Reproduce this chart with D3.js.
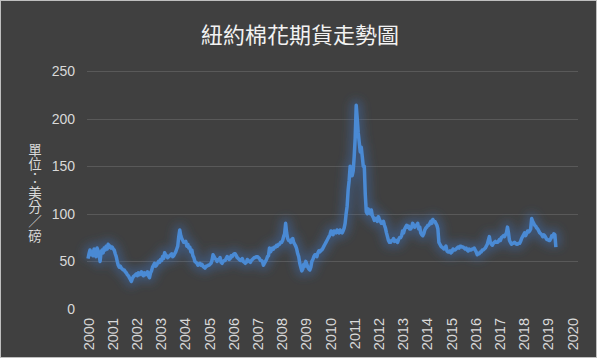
<!DOCTYPE html>
<html><head><meta charset="utf-8">
<script src="https://cdn.jsdelivr.net/npm/d3@7"></script>
<style>
html,body{margin:0;padding:0;background:#ffffff;}
svg{display:block;}
</style></head>
<body>
<svg id="chart" width="600" height="361"></svg>
<script>
// ---- data ----
const titleText = "紐約棉花期貨走勢圖";
const yAxisTitle = "單位：美分／磅";
const startYear = 2000; // first value = start of Jan 2000, two readings per month
const yearTicks = [2000,2001,2002,2003,2004,2005,2006,2007,2008,2009,2010,2011,2012,2013,2014,2015,2016,2017,2018,2019,2020];
const valueTicks = [0,50,100,150,200,250];
const prices2000 = [53,58,62,57,60,56,63,58,55,64,61,57,50,60,62,59,64,62,66,63,68,65,66,64];
const prices2001 = [65,63,62,58,55,50,46,44,45,43,42,41,41,39,38,36,35,33,31,29,32,34,35,36];
const prices2002 = [37,35,38,36,37,39,36,35,38,36,37,39,35,33,38,40,44,46,48,45,46,48,50,49];
const prices2003 = [52,51,55,53,59,57,56,54,55,56,57,58,55,56,58,60,63,66,76,83,77,74,72,70];
const prices2004 = [70,71,66,68,64,65,60,62,56,54,50,49,48,46,47,48,46,47,45,44,43,45,45,46];
const prices2005 = [46,47,48,51,57,55,53,52,50,52,52,54,49,48,50,51,51,53,55,54,52,53,56,55];
const prices2006 = [57,58,58,56,54,53,52,51,51,53,50,49,48,49,52,51,50,49,51,52,53,54,54,55];
const prices2007 = [55,54,53,51,51,50,46,48,50,52,55,56,64,60,62,64,63,65,65,67,66,68,68,70];
const prices2008 = [70,72,76,79,90,80,74,72,72,70,73,74,70,68,66,63,58,55,48,44,40,42,47,45];
const prices2009 = [50,47,44,42,41,44,50,52,55,57,57,55,59,61,60,62,62,64,66,68,70,72,74,76];
const prices2010 = [78,82,80,78,82,81,80,83,82,80,83,81,80,82,85,90,100,108,125,135,150,140,140,145];
const prices2011 = [160,180,214,200,185,175,165,170,160,150,150,120,102,100,105,102,100,104,98,96,93,95,95,92];
const prices2012 = [97,94,92,90,90,92,88,85,80,76,72,70,70,72,72,74,71,72,72,70,73,75,75,77];
const prices2013 = [82,80,84,86,88,86,87,84,84,86,90,88,86,88,88,90,84,86,80,78,77,79,83,85];
const prices2014 = [86,88,88,90,92,90,94,92,92,90,88,84,70,68,66,65,64,63,64,66,61,60,60,61];
const prices2015 = [59,60,63,62,62,63,64,65,64,66,66,65,65,64,63,64,62,61,63,62,62,63,63,64];
const prices2016 = [62,60,57,58,58,60,60,62,62,63,64,66,68,72,76,70,68,67,69,70,71,70,70,71];
const prices2017 = [73,72,75,76,77,76,78,80,86,80,72,70,68,69,69,70,69,68,68,69,69,71,74,76];
const prices2018 = [78,80,77,79,82,81,82,84,95,92,90,88,87,85,84,82,80,79,78,76,78,77,75,73];
const prices2019 = [73,72,72,74,77,76,79,78,65];

const allPrices = [].concat(prices2000,prices2001,prices2002,prices2003,prices2004,prices2005,prices2006,prices2007,prices2008,prices2009,prices2010,prices2011,prices2012,prices2013,prices2014,prices2015,prices2016,prices2017,prices2018,prices2019);
const series = allPrices.map((v,i)=>({t: startYear + i/24, v}));

// ---- layout ----
const svg = d3.select("#chart");
const defs = svg.append("defs");
const glow = defs.append("filter").attr("id","glow").attr("x","-20%").attr("y","-20%").attr("width","140%").attr("height","140%");
glow.append("feGaussianBlur").attr("stdDeviation",5);

svg.append("rect").attr("x",0.5).attr("y",0.5).attr("width",596).attr("height",357)
  .attr("fill","#404040").attr("stroke","#bfbfbf").attr("stroke-width",1);

const x = d3.scaleLinear().domain([2000,2020]).range([88,572]);
const y = d3.scaleLinear().domain([0,250]).range([309,71]);
const plotLeft = 87, plotRight = 578;

// gridlines
svg.append("g").selectAll("line").data(valueTicks.filter(d=>d>0)).join("line")
  .attr("x1",plotLeft).attr("x2",plotRight)
  .attr("y1",d=>Math.round(y(d))+0.5).attr("y2",d=>Math.round(y(d))+0.5)
  .attr("stroke","#595959").attr("stroke-width",1);

// y axis labels
const yAxis = d3.axisLeft(y).tickValues(valueTicks).tickSize(0).tickPadding(0);
const gy = svg.append("g").attr("transform","translate(75,0)").call(yAxis);
gy.select(".domain").remove();
gy.selectAll("text").attr("fill","#d9d9d9").style("font-family","'Liberation Sans', Arial, sans-serif").style("font-size","14px");

// x axis labels
const xAxis = d3.axisBottom(x).tickValues(yearTicks).tickSize(0).tickPadding(0).tickFormat(d3.format("d"));
const gx = svg.append("g").attr("transform","translate(0,317)").call(xAxis);
gx.select(".domain").remove();
gx.selectAll("text")
  .attr("fill","#d9d9d9")
  .style("font-family","'Liberation Sans', Arial, sans-serif").style("font-size","14.5px")
  .attr("transform","rotate(-90)")
  .attr("text-anchor","end").attr("x",-1).attr("y",0).attr("dy","0.35em");

// line with glow
const line = d3.line().x(d=>x(d.t)).y(d=>y(d.v));
svg.append("path").datum(series).attr("d",line)
  .attr("fill","none").attr("stroke","#3b6aa8").attr("stroke-width",11).attr("stroke-opacity",0.5)
  .attr("stroke-linejoin","round").attr("filter","url(#glow)");
svg.append("path").datum(series).attr("d",line)
  .attr("fill","none").attr("stroke","#4a8ad4").attr("stroke-width",3.5)
  .attr("stroke-linejoin","round");

// title
svg.append("text").attr("x",300).attr("y",43).attr("text-anchor","middle")
  .attr("fill","#f2f2f2").style("font-family","'Noto Sans CJK TC', sans-serif").style("font-size","22px")
  .text(titleText);

// y axis title (vertical writing)
svg.append("text")
  .attr("x",35).attr("y",143)
  .attr("fill","#d9d9d9").style("font-family","'Noto Sans CJK TC', sans-serif").style("font-size","13.5px")
  .style("writing-mode","vertical-rl").style("text-orientation","upright")
  .style("letter-spacing","0.8px")
  .text(yAxisTitle);
</script>
</body></html>
